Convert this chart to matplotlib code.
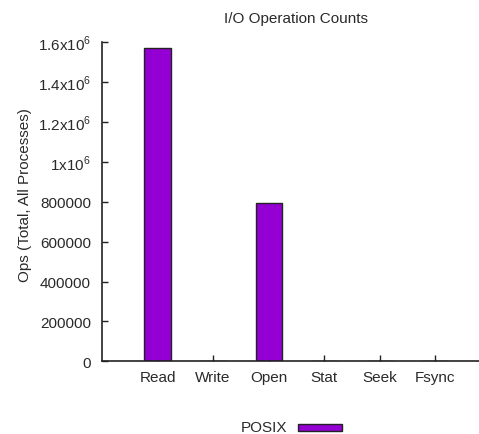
import matplotlib
matplotlib.use("Agg")
import matplotlib.pyplot as plt
from matplotlib.patches import Rectangle

categories = ["Read", "Write", "Open", "Stat", "Seek", "Fsync"]
posix_ops = [1571000, 0, 792000, 4000, 0, 0]
ytick_values = [0, 200000, 400000, 600000, 800000, 1000000, 1200000, 1400000, 1600000]
ytick_labels = ["0", "200000", "400000", "600000", "800000",
                r"1x10$^{6}$", r"1.2x10$^{6}$", r"1.4x10$^{6}$", r"1.6x10$^{6}$"]

plt.rcParams["font.family"] = ["Liberation Sans", "DejaVu Sans"]
plt.rcParams["mathtext.fontset"] = "custom"
plt.rcParams["mathtext.rm"] = "Liberation Sans"

FS = 11
TXT = "#2a2a2a"
W, H = 479, 435
fig = plt.figure(figsize=(W / 100, H / 100), dpi=100)
ax = fig.add_axes([102 / W, 1 - 362.3 / H, 1 - 102 / W, (362.3 - 43.3) / H])

bar_color = "#9400d3"
edge_color = "#222222"
x = list(range(len(categories)))
ax.bar(x, posix_ops, width=0.47, color=bar_color, edgecolor=edge_color,
       linewidth=1.0, zorder=2)

ax.set_xlim(-1, 5.79)
ax.set_ylim(0, 1600000)
ax.set_xticks(x)
ax.set_xticklabels(categories, fontsize=FS, color=TXT)
ax.set_yticks(ytick_values)
ax.set_yticklabels(ytick_labels, fontsize=FS, color=TXT)
ax.tick_params(axis="both", direction="in", length=4, width=1, color="#222222")
ax.tick_params(axis="x", pad=6)
ax.tick_params(axis="y", pad=8)

for side in ("top", "right"):
    ax.spines[side].set_visible(False)
for side in ("left", "bottom"):
    ax.spines[side].set_color("#222222")
    ax.spines[side].set_linewidth(1.2)

fig.text(25 / W, 1 - 195 / H, "Ops (Total, All Processes)", rotation=90,
         ha="center", va="center", fontsize=FS, color=TXT)
fig.text(296 / W, 1 - 19 / H, "I/O Operation Counts", ha="center", va="center",
         fontsize=FS, color=TXT)

# legend entry drawn below the axes
fig.text(287 / W, 1 - 428 / H, "POSIX", ha="right", va="center",
         fontsize=FS, color=TXT)
fig.add_artist(Rectangle((298 / W, 1 - 432 / H), 44 / W, 7 / H,
                         transform=fig.transFigure, facecolor=bar_color,
                         edgecolor=edge_color, linewidth=1.0))

fig.savefig("out.png", dpi=100)
